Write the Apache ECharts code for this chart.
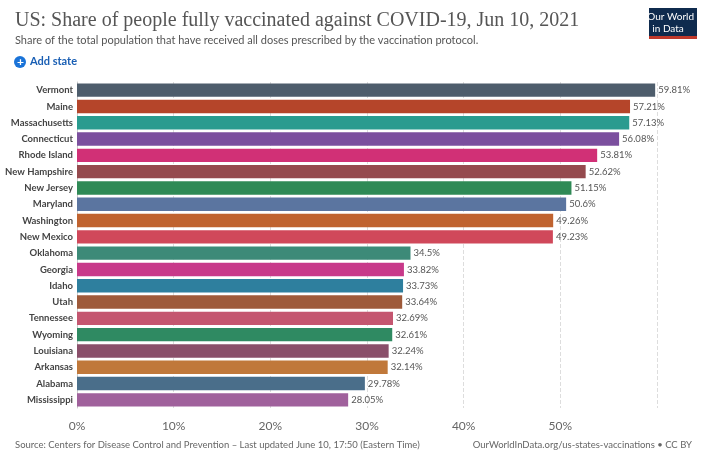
<!DOCTYPE html><html><head><meta charset="utf-8"><script src="https://cdn.jsdelivr.net/npm/echarts@6/dist/echarts.min.js"></script>
<style>body{margin:0;background:#fff}#c{width:705px;height:454px}</style></head><body><div id="c"></div><script>
const states=["Vermont","Maine","Massachusetts","Connecticut","Rhode Island","New Hampshire","New Jersey","Maryland","Washington","New Mexico","Oklahoma","Georgia","Idaho","Utah","Tennessee","Wyoming","Louisiana","Arkansas","Alabama","Mississippi"];
const values=[59.81,57.21,57.13,56.08,53.81,52.62,51.15,50.6,49.26,49.23,34.5,33.82,33.73,33.64,32.69,32.61,32.24,32.14,29.78,28.05];
const colors=["#4e5d6c","#b5452a","#2a9b8f","#7b4f9e","#d13076","#954a4e","#2f8a56","#5b75a0","#c0632f","#d0485a","#3d8a78","#c8398a","#2e7f9e","#9e5a3a","#c45670","#2f8a62","#8a4f6a","#c0783a","#4a6e8a","#a0619c"];
const ticks=[0,10,20,30,40,50];
const ch=echarts.init(document.getElementById('c'));
ch.setOption({animation:false,textStyle:{fontFamily:'Lato'},
title:[{text:'US: Share of people fully vaccinated against COVID-19, Jun 10, 2021',left:10,top:6,textStyle:{fontFamily:'Liberation Serif',fontWeight:'normal',fontSize:20,color:'#555'}},
{text:'Share of the total population that have received all doses prescribed by the vaccination protocol.',left:10,top:30,textStyle:{fontSize:11,fontWeight:'normal',color:'#555'}},
{text:'Source: Centers for Disease Control and Prevention – Last updated June 10, 17:50 (Eastern Time)',left:10,top:435,textStyle:{fontSize:9.5,fontWeight:'normal',color:'#666'}},
{text:'OurWorldInData.org/us-states-vaccinations • CC BY',right:8,top:435,textStyle:{fontSize:9.5,fontWeight:'normal',color:'#666'}}],
graphic:[{type:'rect',right:8,top:8,shape:{width:48,height:30},style:{fill:'#0f2b4e'}},
{type:'rect',right:8,top:36,shape:{width:48,height:3},style:{fill:'#c0392b'}},
{type:'text',right:11,top:11,style:{text:'Our World\n  in Data',fill:'#fff',font:'10px Lato',lineHeight:12}},
{type:'circle',left:14,top:56,shape:{r:6},style:{fill:'#1a73d8'}},
{type:'text',left:17,top:56,style:{text:'+',fill:'#fff',font:'bold 12px Lato'}},
{type:'text',left:30,top:56,style:{text:'Add state',fill:'#1a5fb4',font:'bold 11px Lato'}}],
grid:{left:77,right:48,top:82,bottom:46},
xAxis:{type:'value',min:0,max:60,interval:10,axisLabel:{formatter:v=>v<60?v+'%':'',color:'#666',fontSize:12,margin:12},splitLine:{lineStyle:{type:'dashed',color:'#ddd'}},axisLine:{show:false},axisTick:{show:false}},
yAxis:{type:'category',inverse:true,data:states,axisLabel:{color:'#444',fontWeight:'bold',fontSize:9.5,margin:4},axisLine:{show:true,lineStyle:{color:'#ccc'}},axisTick:{show:false}},
series:[{type:'bar',barCategoryGap:'18%',data:values.map((v,i)=>({value:v,itemStyle:{color:colors[i]}})),label:{show:true,position:'right',formatter:p=>p.value+'%',color:'#555',fontSize:9.5,distance:3}}]});
</script></body></html>
